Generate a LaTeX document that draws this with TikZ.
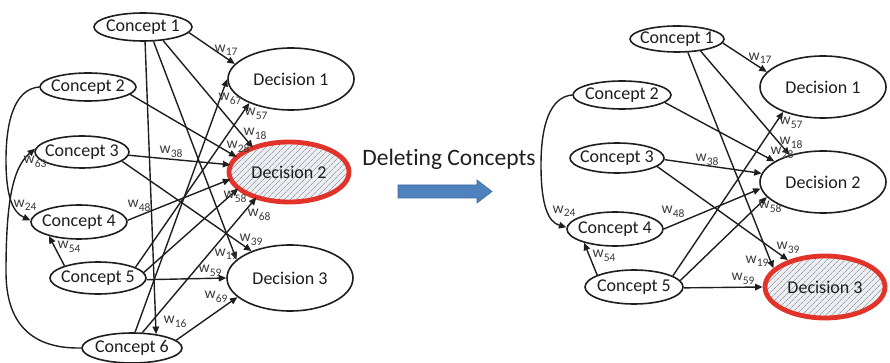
\documentclass[tikz,border=0pt]{standalone}
\usepackage{fontspec}
\setmainfont{Carlito}[Ligatures=NoCommon]
\usetikzlibrary{shapes.geometric,arrows.meta,patterns.meta}

\definecolor{inkc}{HTML}{1E1E1E}
\definecolor{labc}{HTML}{3A3A3A}
\definecolor{hotred}{HTML}{E2332B}
\definecolor{hatchbg}{HTML}{ECEEF2}
\definecolor{hatchln}{HTML}{9DA1A8}
\definecolor{arrowblue}{HTML}{4F81BD}
\definecolor{arrowedge}{HTML}{3C6A9E}

% weight label: w with a lowered index
\newcommand\wlab[1]{w\kern0.2pt\raisebox{-3.4pt}{\fontsize{11.5}{12}\selectfont #1}}

\tikzset{
  nodetext/.style={font=\fontsize{18}{21}\selectfont, text=inkc, inner sep=0pt},
  concept/.style={ellipse, draw=inkc, line width=1.6pt, inner sep=0pt, fill=white,
                  label={[nodetext]center:#1}},
  chosen/.style={ellipse, draw=hotred, line width=4.8pt, inner sep=0pt,
                 preaction={fill=hatchbg},
                 pattern={Lines[angle=45,distance=4pt,line width=0.8pt]},
                 pattern color=hatchln,
                 label={[nodetext]center:#1}},
  link/.style={draw=inkc, line width=1.4pt, -{Triangle[length=7.5pt,width=6.5pt]}},
  wt/.style={font=\fontsize{15.5}{18}\selectfont, text=labc, inner sep=0pt},
}

\begin{document}
\begin{tikzpicture}[x=1pt,y=-1pt]
\useasboundingbox (0,0) rectangle (890,363);

% ---------------- full map ----------------
\node[concept={Concept 1}, minimum width=98pt, minimum height=28pt] (L1) at (143,27) {};
\node[concept={Concept 2}, minimum width=96pt, minimum height=28pt] (L2) at (88,87) {};
\node[concept={Concept 3}, minimum width=94pt, minimum height=32pt] (L3) at (82,152) {};
\node[concept={Concept 4}, minimum width=96pt, minimum height=34pt] (L4) at (79,222) {};
\node[concept={Concept 5}, minimum width=96pt, minimum height=32pt] (L5) at (98,278) {};
\node[concept={Concept 6}, minimum width=100pt, minimum height=30pt] (L6) at (132,348) {};
\node[concept={Decision 1}, minimum width=126pt, minimum height=62pt] (LD1) at (291,79) {};
\node[chosen={Decision 2}, minimum width=120pt, minimum height=60pt] (LD2) at (289,172) {};
\node[concept={Decision 3}, minimum width=126pt, minimum height=66pt] (LD3) at (290,278) {};

\draw[link] (L1.-7)   -- (LD1.165);
\draw[link] (L1.-34)  -- (LD2.146);
\draw[link] (L1.-54)  -- (LD3.161);
\draw[link] (L1.-82)  -- (L6.30);
\draw[link] (L2.-10)  -- (LD2.164);
\draw[link] (L3.-4)   -- (LD2.173);
\draw[link] (L3.-13)  -- (LD3.145);
\draw[link] (L4.2)    -- (LD2.187);
\draw[link] (L5.160)  -- (L4.205);
\draw[link] (L5.16)   -- (LD1.210);
\draw[link] (L5.7)    -- (LD2.198);
\draw[link] (L5.-2)   -- (LD3.180);
\draw[link] (L6.79)   -- (LD1.180);
\draw[link] (L6.56)   -- (LD2.218);
\draw[link] (L6.10)   -- (LD3.200);
\draw[link] (L2.west) .. controls (15,89) and (6,120) .. (6,160)
                      .. controls (6,195) and (12,212) .. (L4.178);
\draw[link] (L6.west) .. controls (30,349) and (6,322) .. (6,272)
                      .. controls (6,205) and (12,168) .. (L3.176);

\node[wt] (a17) at (226,50)  {\wlab{17}};
\node[wt] (a18) at (255,134) {\wlab{18}};
\node[wt] (a19) at (226,254) {\wlab{19}};
\node[wt] (a16) at (175,322) {\wlab{16}};
\node[wt] (a28) at (238,147) {\wlab{28}};
\node[wt] (a24) at (25,205)  {\wlab{24}};
\node[wt] (a38) at (171,152) {\wlab{38}};
\node[wt] (a39) at (251,240) {\wlab{39}};
\node[wt] (a48) at (139,206) {\wlab{48}};
\node[wt] (a54) at (69,247)  {\wlab{54}};
\node[wt] (a57) at (256,114) {\wlab{57}};
\node[wt] (a58) at (235,197) {\wlab{58}};
\node[wt] (a59) at (210,271) {\wlab{59}};
\node[wt] (a67) at (230,99)  {\wlab{67}};
\node[wt] (a68) at (259,215) {\wlab{68}};
\node[wt] (a69) at (216,297) {\wlab{69}};
\node[wt] (a63) at (35,162)  {\wlab{63}};

% ---------------- transition ----------------
\node[font=\fontsize{23.5}{28}\selectfont, text=inkc, inner sep=0pt] (caption) at (449,159) {Deleting Concepts};
\fill[arrowblue, draw=arrowedge, line width=0.6pt]
  (398,185) -- (477,185) -- (477,180) -- (492,191.5) -- (477,203) -- (477,198) -- (398,198) -- cycle;

% ---------------- reduced map ----------------
\node[concept={Concept 1}, minimum width=94pt, minimum height=26pt] (R1) at (677,39) {};
\node[concept={Concept 2}, minimum width=98pt, minimum height=28pt] (R2) at (622,95) {};
\node[concept={Concept 3}, minimum width=94pt, minimum height=30pt] (R3) at (617,158) {};
\node[concept={Concept 4}, minimum width=96pt, minimum height=34pt] (R4) at (615,229) {};
\node[concept={Concept 5}, minimum width=98pt, minimum height=34pt] (R5) at (634,287) {};
\node[concept={Decision 1}, minimum width=126pt, minimum height=62pt] (RD1) at (823,87) {};
\node[concept={Decision 2}, minimum width=126pt, minimum height=62pt] (RD2) at (823,182) {};
\node[chosen={Decision 3}, minimum width=120pt, minimum height=62pt] (RD3) at (825,287) {};

\draw[link] (R1.-5)   -- (RD1.165);
\draw[link] (R1.-27)  -- (RD2.141);
\draw[link] (R1.-51)  -- (RD3.160);
\draw[link] (R2.-10)  -- (RD2.157);
\draw[link] (R3.-2)   -- (RD2.172);
\draw[link] (R3.-12)  -- (RD3.144);
\draw[link] (R4.0)    -- (RD2.186);
\draw[link] (R5.162)  -- (R4.204);
\draw[link] (R5.16)   -- (RD1.212);
\draw[link] (R5.8)    -- (RD2.195);
\draw[link] (R5.-1)   -- (RD3.180);
\draw[link] (R2.west) .. controls (550,97) and (541,125) .. (541,165)
                      .. controls (541,205) and (548,222) .. (R4.178);

\node[wt] (b17) at (760,58)  {\wlab{17}};
\node[wt] (b18) at (791,143) {\wlab{18}};
\node[wt] (b19) at (757,261) {\wlab{19}};
\node[wt] (b28) at (782,153) {\wlab{28}};
\node[wt] (b24) at (564,211) {\wlab{24}};
\node[wt] (b38) at (707,160) {\wlab{38}};
\node[wt] (b39) at (788,248) {\wlab{39}};
\node[wt] (b48) at (673,212) {\wlab{48}};
\node[wt] (b54) at (604,256) {\wlab{54}};
\node[wt] (b57) at (791,123) {\wlab{57}};
\node[wt] (b58) at (770,207) {\wlab{58}};
\node[wt] (b59) at (743,279) {\wlab{59}};
\end{tikzpicture}
\end{document}
